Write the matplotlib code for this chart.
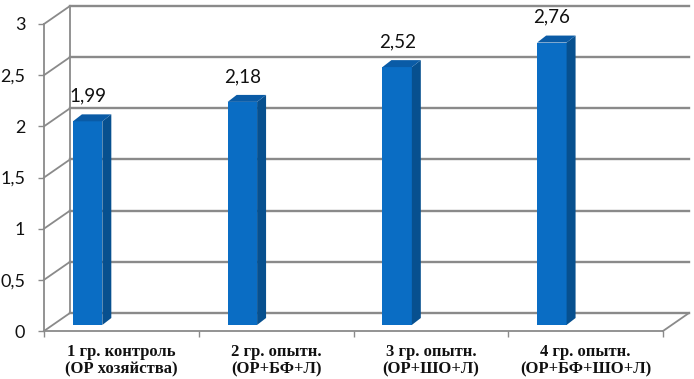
import matplotlib
matplotlib.use("Agg")
import matplotlib.pyplot as plt
from matplotlib.patches import Polygon
from matplotlib.ticker import FixedLocator

categories = ["1 гр. контроль\n(ОР хозяйства)",
              "2 гр. опытн.\n(ОР+БФ+Л)",
              "3 гр. опытн.\n(ОР+ШО+Л)",
              "4 гр. опытн.\n(ОР+БФ+ШО+Л)"]
values = [1.99, 2.18, 2.52, 2.76]
value_labels = ["1,99", "2,18", "2,52", "2,76"]
yticks = [0, 0.5, 1, 1.5, 2, 2.5, 3]
ytick_labels = ["0", "0,5", "1", "1,5", "2", "2,5", "3"]

# colours
front_c = "#0a6dc4"
top_c = "#0a5ba6"
side_c = "#07508f"
grid_c = "#8a8a8a"

# 3d look: wall depth and bar geometry (data units)
DX, DY = 0.168, 0.176
BAR_OFF, BAR_W = -0.313, 0.19
BAR_BASE = 0.059
BDX, BDY = 0.058, 0.068

W, H = 694, 379
fig = plt.figure(figsize=(W / 100, H / 100), dpi=100)
ax = fig.add_axes([44 / W, 48 / H, (663 - 44) / W, (355 - 48) / H])
n = len(categories)
ax.set_xlim(-0.5, n - 0.5)
ax.set_ylim(0, 3)

# back wall gridlines, side wall diagonals
for y in yticks:
    ax.plot([-0.5 + DX, n - 0.5 + DX], [y + DY, y + DY], color=grid_c,
            lw=1.7, clip_on=False, zorder=1)
    ax.plot([-0.5, -0.5 + DX], [y, y + DY], color=grid_c, lw=1.3,
            clip_on=False, zorder=1)
ax.plot([-0.5 + DX, -0.5 + DX], [DY, 3 + DY], color=grid_c, lw=1.3,
        clip_on=False, zorder=1)
# floor right edge
ax.plot([n - 0.5, n - 0.5 + DX], [0, DY], color=grid_c, lw=1.3,
        clip_on=False, zorder=1)

# bars
for i, v in enumerate(values):
    x0 = i + BAR_OFF
    x1 = x0 + BAR_W
    y0 = BAR_BASE
    y1 = BAR_BASE + v
    front = Polygon([(x0, y0), (x1, y0), (x1, y1), (x0, y1)],
                    closed=True, fc=front_c, ec="none", zorder=3)
    side = Polygon([(x1, y0), (x1 + BDX, y0 + BDY), (x1 + BDX, y1 + BDY),
                    (x1, y1)], closed=True, fc=side_c, ec="none", zorder=3)
    top = Polygon([(x0, y1), (x1, y1), (x1 + BDX, y1 + BDY),
                   (x0 + BDX, y1 + BDY)], closed=True, fc=top_c, ec="none",
                  zorder=3)
    for p in (front, side, top):
        ax.add_patch(p)
    ax.annotate(value_labels[i], (x0 + BAR_W / 2, y1 + BDY),
                xytext=(0, 7), textcoords="offset points", ha="center",
                va="bottom", fontsize=13.5, family="Lato", color="#111111")

# axes styling
for s in ("top", "right"):
    ax.spines[s].set_visible(False)
for s in ("left", "bottom"):
    ax.spines[s].set_color(grid_c)
    ax.spines[s].set_linewidth(1.3)
    ax.spines[s].set_zorder(2)

ax.set_yticks(yticks)
ax.set_yticklabels(ytick_labels, fontsize=13, family="Lato")
ax.tick_params(axis="y", length=4, width=1, color=grid_c, pad=9.5,
               labelcolor="#111111")

ax.set_xticks(range(n))
ax.set_xticklabels(categories, fontsize=12, family="Liberation Serif",
                   fontweight="bold", linespacing=1.12)
ax.xaxis.set_minor_locator(FixedLocator([i - 0.5 for i in range(n + 1)]))
ax.tick_params(axis="x", which="major", length=0, pad=9.5,
               labelcolor="#111111")
ax.tick_params(axis="x", which="minor", length=4, width=1, color=grid_c)
ax.set_facecolor("none")

fig.savefig("out.png", dpi=100, facecolor="white")
